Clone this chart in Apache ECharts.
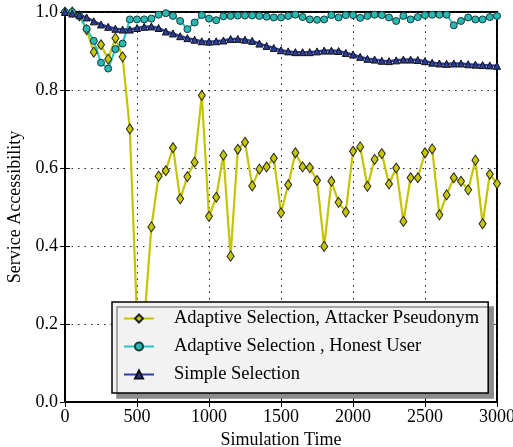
<!DOCTYPE html>
<html>
<head>
<meta charset="utf-8">
<script src="https://cdn.jsdelivr.net/npm/echarts@6/dist/echarts.min.js"></script>
<style>
  html, body { margin: 0; padding: 0; background: #fff; }
  #main { width: 513px; height: 447px; }
</style>
</head>
<body>
<div id="main"></div>
<script>
// simulation time steps
const times = [0, 50, 100, 150, 200, 250, 300, 350, 400, 450,
  500, 550, 600, 650, 700, 750, 800, 850, 900, 950,
  1000, 1050, 1100, 1150, 1200, 1250, 1300, 1350, 1400, 1450,
  1500, 1550, 1600, 1650, 1700, 1750, 1800, 1850, 1900, 1950,
  2000, 2050, 2100, 2150, 2200, 2250, 2300, 2350, 2400, 2450,
  2500, 2550, 2600, 2650, 2700, 2750, 2800, 2850, 2900, 2950, 3000]

// Adaptive Selection, Attacker Pseudonym
const attacker = [1.0, 1.0, 0.99, 0.955, 0.897, 0.916, 0.879, 0.933, 0.885, 0.700,
  0.215, 0.205, 0.449, 0.579, 0.593, 0.652, 0.521, 0.578, 0.615, 0.786,
  0.476, 0.525, 0.633, 0.374, 0.648, 0.666, 0.554, 0.597, 0.603, 0.625,
  0.485, 0.557, 0.639, 0.603, 0.601, 0.568, 0.399, 0.566, 0.512, 0.487,
  0.643, 0.654, 0.553, 0.622, 0.637, 0.559, 0.600, 0.463, 0.575, 0.575,
  0.639, 0.649, 0.480, 0.531, 0.575, 0.566, 0.544, 0.620, 0.457, 0.584, 0.560]

// Adaptive Selection , Honest User
const honest = [1.0, 1.0, 0.99, 0.957, 0.926, 0.870, 0.855, 0.905, 0.919, 0.981,
  0.981, 0.981, 0.983, 0.993, 0.997, 0.990, 0.977, 0.956, 0.973, 0.992,
  0.983, 0.979, 0.989, 0.990, 0.991, 0.991, 0.991, 0.990, 0.988, 0.986,
  0.986, 0.990, 0.993, 0.987, 0.981, 0.980, 0.981, 0.992, 0.986, 0.992,
  0.992, 0.985, 0.990, 0.993, 0.992, 0.986, 0.977, 0.990, 0.981, 0.987,
  0.992, 0.993, 0.993, 0.993, 0.966, 0.977, 0.986, 0.981, 0.981, 0.987, 0.990]

// Simple Selection
const simple = [1.0, 0.996, 0.992, 0.986, 0.976, 0.968, 0.962, 0.957, 0.955, 0.955,
  0.959, 0.962, 0.963, 0.959, 0.950, 0.945, 0.938, 0.933, 0.929, 0.925,
  0.924, 0.925, 0.927, 0.931, 0.931, 0.929, 0.926, 0.919, 0.913, 0.908,
  0.902, 0.899, 0.897, 0.897, 0.897, 0.899, 0.901, 0.901, 0.900, 0.895,
  0.891, 0.885, 0.880, 0.878, 0.875, 0.874, 0.876, 0.878, 0.878, 0.877,
  0.874, 0.870, 0.868, 0.867, 0.868, 0.868, 0.866, 0.865, 0.864, 0.863, 0.862]

const pairs = (ys) => times.map((t, i) => [t, ys[i]])

const font = 'Liberation Serif'
const main = document.getElementById('main')
const myChart = echarts.init(main)

const dotted = { color: '#222', width: 1, type: [1.5, 5] }
const tick = { show: true, inside: true, length: 5, lineStyle: { color: '#000', width: 1 } }

let option = {
  animation: false,
  backgroundColor: '#fff',
  grid: {
    left: 65, right: 16, top: 12, bottom: 45,
    outerBoundsMode: 'none', containLabel: false,
    show: true, borderColor: '#000', borderWidth: 2
  },
  legend: {
    orient: 'vertical',
    left: 112,
    top: 302,
    padding: [7, 9, 9, 11],
    itemGap: 9,
    itemWidth: 30,
    itemHeight: 10,
    backgroundColor: '#f2f2f2',
    borderColor: '#000',
    borderWidth: 1.5,
    shadowColor: '#8c8c8c',
    shadowBlur: 0,
    shadowOffsetX: 5,
    shadowOffsetY: 5,
    textStyle: { fontFamily: font, fontSize: 18.5, color: '#000', padding: [0, 0, 0, 15] },
    data: ['Adaptive Selection, Attacker Pseudonym', 'Adaptive Selection , Honest User', 'Simple Selection']
  },
  xAxis: [
    {
      type: 'value', min: 0, max: 3000, interval: 500,
      name: 'Simulation Time', nameLocation: 'middle', nameGap: 29,
      nameTextStyle: { fontFamily: font, fontSize: 18, color: '#000' },
      axisLine: { show: true, lineStyle: { color: '#000', width: 2 } },
      axisTick: tick,
      axisLabel: { fontFamily: font, fontSize: 18, color: '#000', margin: 6, formatter: (v) => String(v) },
      splitLine: { show: true, lineStyle: dotted }
    },
    {
      type: 'value', min: 0, max: 3000, interval: 500, position: 'top',
      axisLine: { show: true, lineStyle: { color: '#000', width: 2 } },
      axisTick: tick, axisLabel: { show: false }, splitLine: { show: false }
    }
  ],
  yAxis: [
    {
      type: 'value', min: 0, max: 1, interval: 0.2,
      name: 'Service Accessibility', nameLocation: 'middle', nameGap: 37,
      nameTextStyle: { fontFamily: font, fontSize: 18, color: '#000' },
      axisLine: { show: true, lineStyle: { color: '#000', width: 2 } },
      axisTick: tick,
      axisLabel: { fontFamily: font, fontSize: 18, color: '#000', margin: 7, formatter: (v) => v.toFixed(1) },
      splitLine: { show: true, lineStyle: dotted }
    },
    {
      type: 'value', min: 0, max: 1, interval: 0.2, position: 'right',
      axisLine: { show: true, lineStyle: { color: '#000', width: 2 } },
      axisTick: tick, axisLabel: { show: false }, splitLine: { show: false }
    }
  ],
  series: [
    {
      name: 'Adaptive Selection, Attacker Pseudonym',
      type: 'line',
      data: pairs(attacker),
      symbol: 'diamond',
      symbolSize: [7, 10],
      lineStyle: { color: '#c4c400', width: 2.2 },
      itemStyle: { color: '#c8c800', borderColor: '#222', borderWidth: 1 }
    },
    {
      name: 'Adaptive Selection , Honest User',
      type: 'line',
      data: pairs(honest),
      symbol: 'circle',
      symbolSize: 7,
      lineStyle: { color: '#22c4c4', width: 2 },
      itemStyle: { color: '#2ab8b2', borderColor: '#1a3a3a', borderWidth: 1 }
    },
    {
      name: 'Simple Selection',
      type: 'line',
      data: pairs(simple),
      symbol: 'triangle',
      symbolSize: 7,
      lineStyle: { color: '#2d3f9e', width: 2.5 },
      itemStyle: { color: '#2a3c9c', borderColor: '#111', borderWidth: 1 }
    }
  ]
}

myChart.setOption(option)
window.onresize = () => {
  myChart.resize()
}
</script>
</body>
</html>
